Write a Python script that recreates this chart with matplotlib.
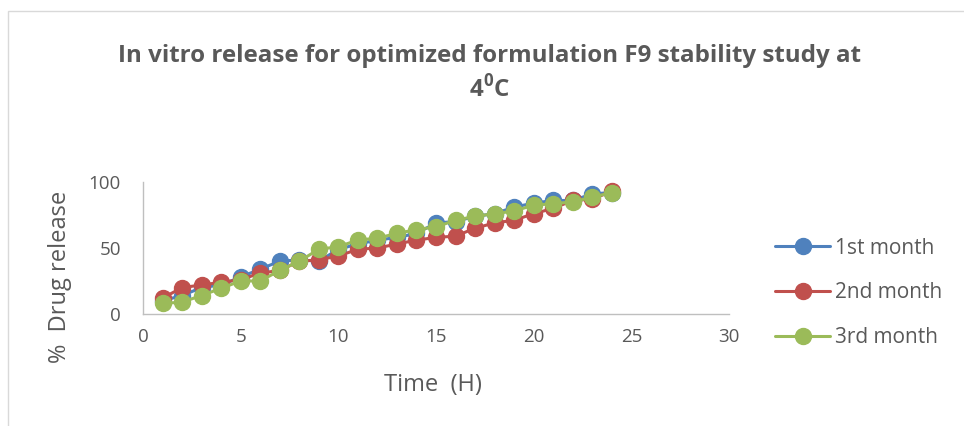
import matplotlib.pyplot as plt
from matplotlib.patches import Rectangle

# release data (%) for each month of the stability study
time_h = list(range(1, 25))
month1 = [10, 14, 20, 22, 28, 34, 40, 41, 40, 49, 53, 56, 58, 61, 69, 70,
          74, 76, 81, 84, 86, 86, 91, 92]
month2 = [12, 20, 22, 24, 26, 31, 33, 40, 41, 44, 49, 50, 53, 56, 58, 59,
          65, 69, 71, 76, 80, 86, 87, 93]
month3 = [8, 9, 14, 19.5, 25, 25, 33, 40, 49, 51, 56, 57.5, 61, 64, 66, 71,
          74, 76, 78, 82.5, 83.5, 85, 88.5, 92]
labels = ['1st month', '2nd month', '3rd month']
colors = ['#4F81BD', '#C0504D', '#9BBB59']

plt.rcParams['font.family'] = ['Open Sans', 'DejaVu Sans']
txt = '#595959'

fig = plt.figure(figsize=(9.64, 4.26), dpi=100)
# chart area frame
fig.patches.append(Rectangle((8 / 964, -0.01), 1.0, 1 - 11 / 426 + 0.01,
                             transform=fig.transFigure, fill=False,
                             edgecolor='#D9D9D9', linewidth=1))

ax = fig.add_axes([143 / 964, 1 - 314 / 426, (729 - 143) / 964, (314 - 182) / 426])
for y, lab, c in zip([month1, month2, month3], labels, colors):
    ax.plot(time_h, y, color=c, lw=2.2, marker='o', markersize=11.5,
            label=lab, solid_capstyle='round')

ax.set_xlim(0, 30)
ax.set_ylim(0, 100)
ax.set_xticks(range(0, 31, 5))
ax.set_yticks([0, 50, 100])
ax.tick_params(length=0, labelsize=13.5, colors=txt)
ax.tick_params(axis='y', pad=16)
ax.tick_params(axis='x', pad=10)
for s in ['top', 'right']:
    ax.spines[s].set_visible(False)
for s in ['left', 'bottom']:
    ax.spines[s].set_color('#BFBFBF')
    ax.spines[s].set_linewidth(1)

ax.set_xlabel('Time  (H)', fontsize=17, color=txt, va='center')
ax.xaxis.set_label_coords((433 - 143) / 586, (314 - 385) / 132)
ax.set_ylabel('%  Drug release', fontsize=17, color=txt, va='center')
ax.yaxis.set_label_coords((60 - 143) / 586, (314 - 277) / 132)

fig.text(489 / 964, 1 - 56 / 426,
         'In vitro release for optimized formulation F9 stability study at',
         ha='center', va='center', fontsize=17.4, fontweight='bold', color=txt)
fig.text(489 / 964, 1 - 89 / 426, '4$^{\\mathregular{0}}$C',
         ha='center', va='center', fontsize=17.4, fontweight='bold', color=txt)

ax.legend(loc='center left', bbox_to_anchor=(775 / 964, 1 - 293 / 426),
          bbox_transform=fig.transFigure, frameon=False, borderpad=0,
          borderaxespad=0, fontsize=15, labelcolor=txt, handlelength=2.65,
          handletextpad=0.25, labelspacing=1.15)

fig.savefig('out.png', dpi=100)
